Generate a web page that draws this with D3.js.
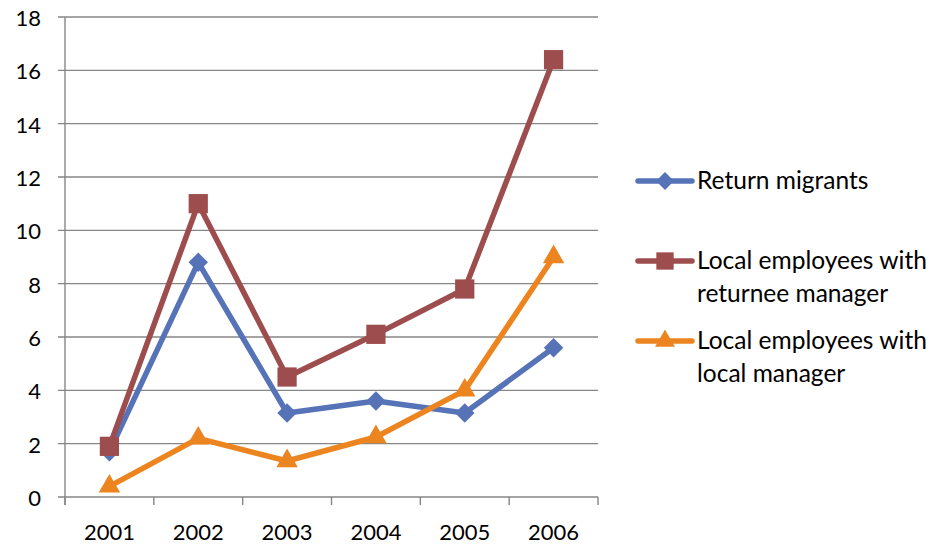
<!DOCTYPE html>
<html><head><meta charset="utf-8">
<script src="https://cdn.jsdelivr.net/npm/d3@7"></script>
<style>body{margin:0;background:#fff;} svg{display:block;}</style>
</head><body>
<svg id="c" width="930" height="544"></svg>
<script>
const years = ["2001","2002","2003","2004","2005","2006"];
const returnMigrants = [1.7, 8.8, 3.15, 3.6, 3.15, 5.6];
const returneeManager = [1.9, 11.0, 4.5, 6.1, 7.8, 16.4];
const localManager = [0.4, 2.2, 1.35, 2.25, 4.0, 9.0];
const yTicks = [0,2,4,6,8,10,12,14,16,18];
const seriesNames = [["Return migrants"],["Local employees with","returnee manager"],["Local employees with","local manager"]];

const series = [
  {vals: returnMigrants, color: "#5773B7", sym: d3.symbolSquare, size: 190, rot: 45},
  {vals: returneeManager, color: "#9D4D4D", sym: d3.symbolSquare, size: 370, rot: 0},
  {vals: localManager, color: "#EC851F", sym: d3.symbolTriangle, size: 200, rot: 0}
];
const legendSizes = [160, 300, 170];

const svg = d3.select("#c");
const font = "Lato, sans-serif";
function fitSize(str, target){
  const t = svg.append("text").attr("font-family",font).attr("font-size",100).text(str);
  const w = t.node().getComputedTextLength(); t.remove();
  return 100*target/w;
}
const tickFs = fitSize("2001", 51);
const legFs = fitSize("Local employees with", 230);

const L=65, R=598, T=17, B=497;
const x = d3.scaleBand().domain(years).range([L,R]);
const y = d3.scaleLinear().domain([0,18]).range([B,T]);
const grid = "#868686";

svg.append("g").selectAll("line").data(yTicks).join("line")
  .attr("x1",L-7).attr("x2",R).attr("y1",d=>y(d)).attr("y2",d=>y(d))
  .attr("stroke",grid).attr("stroke-width",1.4);
svg.append("line").attr("x1",L).attr("x2",L).attr("y1",T).attr("y2",B+8).attr("stroke",grid).attr("stroke-width",1.4);
const bounds = years.map(d=>x(d)).concat([R]);
svg.append("g").selectAll("line").data(bounds).join("line")
  .attr("x1",d=>d).attr("x2",d=>d).attr("y1",B).attr("y2",B+8)
  .attr("stroke",grid).attr("stroke-width",1.4);

svg.append("g").selectAll("text").data(yTicks).join("text")
  .attr("x",41).attr("y",d=>y(d)+9).attr("text-anchor","end")
  .attr("font-family",font).attr("font-size",tickFs).attr("fill","#000").text(d=>d);
svg.append("g").selectAll("text").data(years).join("text")
  .attr("x",d=>x(d)+x.bandwidth()/2).attr("y",540).attr("text-anchor","middle")
  .attr("font-family",font).attr("font-size",tickFs).attr("fill","#000").text(d=>d);

const line = d3.line().x((d,i)=>x(years[i])+x.bandwidth()/2).y(d=>y(d));
series.forEach(s=>{
  svg.append("path").attr("d",line(s.vals)).attr("fill","none")
    .attr("stroke",s.color).attr("stroke-width",5.5).attr("stroke-linejoin","round");
});
series.forEach(s=>{
  svg.append("g").selectAll("path").data(s.vals).join("path")
    .attr("d",d3.symbol().type(s.sym).size(s.size))
    .attr("transform",(d,i)=>`translate(${x(years[i])+x.bandwidth()/2},${y(d)}) rotate(${s.rot})`)
    .attr("fill",s.color);
});

const legY = [181, 261, 341];
series.forEach((s,i)=>{
  const g = svg.append("g");
  g.append("line").attr("x1",638).attr("x2",692).attr("y1",legY[i]).attr("y2",legY[i])
    .attr("stroke",s.color).attr("stroke-width",5.5).attr("stroke-linecap","round");
  g.append("path").attr("d",d3.symbol().type(s.sym).size(legendSizes[i]))
    .attr("transform",`translate(665,${legY[i]}) rotate(${s.rot})`).attr("fill",s.color);
  const t = g.append("text").attr("font-family",font).attr("font-size",legFs).attr("fill","#000");
  seriesNames[i].forEach((ln,j)=>{
    t.append("tspan").attr("x",697).attr("y",legY[i]+8+j*33).text(ln);
  });
});
</script>
</body></html>
